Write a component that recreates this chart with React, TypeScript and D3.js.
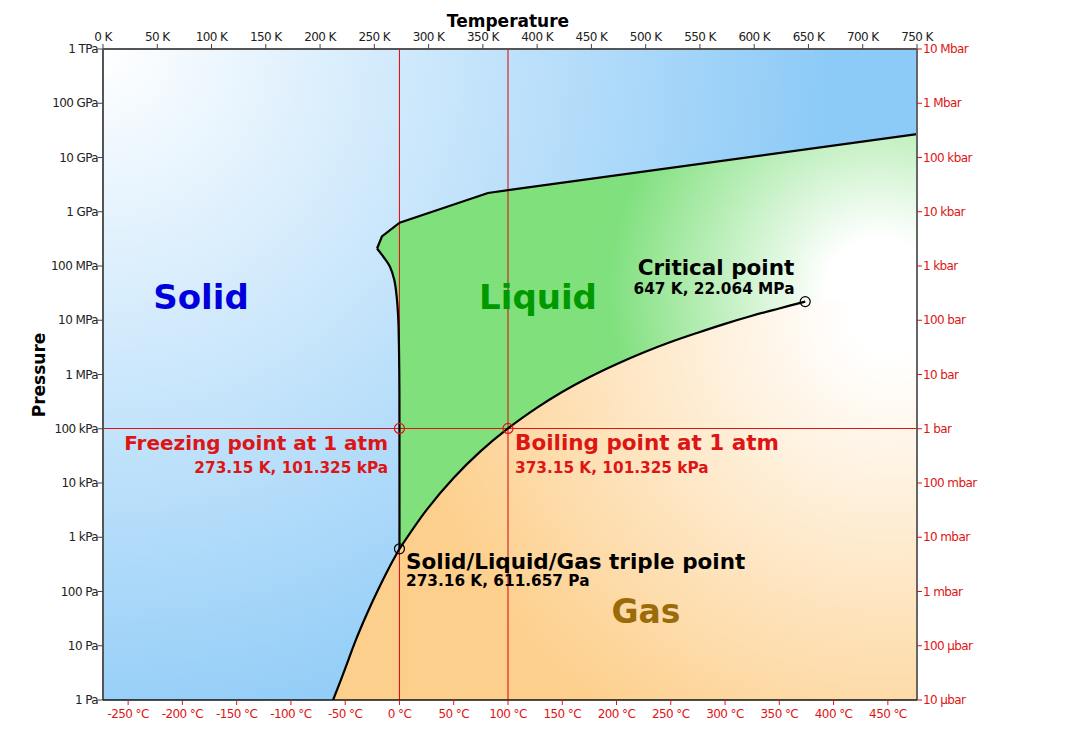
import React from "react";
import * as d3 from "d3";

// ---------- Data (temperature in K, pressure in Pa) ----------
const kelvinTicks = [0, 50, 100, 150, 200, 250, 300, 350, 400, 450, 500, 550, 600, 650, 700, 750];
const celsiusTicks = [-250, -200, -150, -100, -50, 0, 50, 100, 150, 200, 250, 300, 350, 400, 450];
const paTickLabels = ["1 Pa", "10 Pa", "100 Pa", "1 kPa", "10 kPa", "100 kPa", "1 MPa", "10 MPa", "100 MPa", "1 GPa", "10 GPa", "100 GPa", "1 TPa"];
const barTickLabels = ["10 µbar", "100 µbar", "1 mbar", "10 mbar", "100 mbar", "1 bar", "10 bar", "100 bar", "1 kbar", "10 kbar", "100 kbar", "1 Mbar", "10 Mbar"];

// sublimation curve (solid / gas)
const sublimationT = [212, 222, 233, 243, 253, 263, 273.16];
const sublimationP = [1, 3.3, 12.8, 38, 103, 260, 611.657];

// vaporization curve (liquid / gas), triple point -> critical point
const vaporT = [273.16, 298, 323, 348, 373.15, 400, 423, 448, 473, 498, 523, 548, 573, 598, 623, 647];
const vaporP = [611.657, 3170, 12350, 38600, 101325, 245000, 476000, 892000, 1.55e6, 2.55e6, 3.97e6, 5.9e6, 8.59e6, 12.1e6, 16.5e6, 22.064e6];

// melting curve of ice Ih (smooth part)
const meltT = [273.16, 273.15, 273.0, 272.1, 270.6, 268.4, 264.4, 258.3, 252.5];
const meltP = [611.657, 101325, 1e6, 1e7, 2.7e7, 5.5e7, 9.7e7, 1.48e8, 2.1e8];

// high-pressure boundary (ice III, V, VI, VII)
const highT = [252.5, 257, 273.3, 354.7, 750];
const highP = [2.1e8, 3.5e8, 6.3e8, 2.22e9, 2.7e10];

const triplePoint = { T: 273.16, P: 611.657 };
const criticalPoint = { T: 647, P: 22.064e6 };
const freezingPoint = { T: 273.15, P: 101325 };
const boilingPoint = { T: 373.15, P: 101325 };

// ---------- Layout ----------
const W = 1080;
const H = 751;
const left = 103;
const right = 917;
const top = 49;
const bottom = 700;

const x = d3.scaleLinear().domain([0, 750]).range([left, right]);
const y = d3.scaleLog().domain([1, 1e12]).range([bottom, top]);

const zip = (ts: number[], ps: number[]) => ts.map((t, i) => [t, ps[i]] as [number, number]);

const FONT = "'DejaVu Sans', sans-serif";
const RED = "#dd1515";

export default function App() {
  const lineLinear = d3.line<[number, number]>().x((d) => x(d[0])).y((d) => y(d[1]));
  const lineSmooth = d3
    .line<[number, number]>()
    .x((d) => x(d[0]))
    .y((d) => y(d[1]))
    .curve(d3.curveCatmullRom.alpha(0.5));

  const subl = zip(sublimationT, sublimationP);
  const vap = zip(vaporT, vaporP);
  const melt = zip(meltT, meltP);
  const high = zip(highT, highP);

  const sublPath = lineSmooth(subl) || "";
  const vapPath = lineSmooth(vap) || "";
  const meltPath = lineSmooth(melt) || "";
  const highPath = lineLinear(high) || "";

  const liquidPath =
    meltPath +
    "L" + highPath.slice(1) +
    `L${x(750)},${y(criticalPoint.P)}` +
    "L" + (lineSmooth([...vap].reverse()) || "").slice(1) +
    "Z";

  const gasPath =
    sublPath +
    "L" + vapPath.slice(1) +
    `L${x(750) + 5},${y(criticalPoint.P * 3)}` +
    `L${x(750) + 5},${y(1) + 5}` +
    `L${x(sublimationT[0])},${y(1) + 5}` +
    "Z";

  const decades = d3.range(0, 13);
  const cx = x(criticalPoint.T) + 75;
  const cy = y(criticalPoint.P);

  return (
    <svg width={W} height={H} viewBox={`0 0 ${W} ${H}`} style={{ display: "block", position: "absolute", left: 0, top: 0 }}>
      <defs>
        <radialGradient id="solidGrad" gradientUnits="userSpaceOnUse" cx={left} cy={top} r={730}>
          <stop offset="0" stopColor="#ffffff" />
          <stop offset="1" stopColor="#8ccaf7" />
        </radialGradient>
        <radialGradient id="gasGrad" gradientUnits="userSpaceOnUse" cx={cx + 10} cy={cy + 15} r={490}>
          <stop offset="0" stopColor="#ffffff" />
          <stop offset="0.08" stopColor="#ffffff" />
          <stop offset="1" stopColor="#fdcf8c" />
        </radialGradient>
        <radialGradient id="liquidGrad" gradientUnits="userSpaceOnUse" cx={cx} cy={cy - 10} r={300}>
          <stop offset="0" stopColor="#ffffff" />
          <stop offset="0.18" stopColor="#ffffff" />
          <stop offset="0.9" stopColor="#80e07e" />
          <stop offset="1" stopColor="#7fe07c" />
        </radialGradient>
        <clipPath id="plotClip">
          <rect x={left} y={top} width={right - left} height={bottom - top} />
        </clipPath>
      </defs>

      <rect width={W} height={H} fill="#ffffff" />

      <g clipPath="url(#plotClip)">
        <rect x={left} y={top} width={right - left} height={bottom - top} fill="url(#solidGrad)" />
        <path d={gasPath} fill="url(#gasGrad)" />
        <path d={liquidPath} fill="url(#liquidGrad)" />

        {/* reference lines */}
        <line x1={x(freezingPoint.T)} x2={x(freezingPoint.T)} y1={top} y2={bottom} stroke={RED} strokeWidth={1.1} />
        <line x1={x(boilingPoint.T)} x2={x(boilingPoint.T)} y1={top} y2={bottom} stroke={RED} strokeWidth={1.1} />
        <line x1={left} x2={right} y1={y(101325)} y2={y(101325)} stroke={RED} strokeWidth={1.1} />

        {/* phase boundaries */}
        <path d={sublPath} fill="none" stroke="#000" strokeWidth={2.2} />
        <path d={vapPath} fill="none" stroke="#000" strokeWidth={2.2} />
        <path d={meltPath} fill="none" stroke="#000" strokeWidth={2.2} />
        <path d={highPath} fill="none" stroke="#000" strokeWidth={2.2} strokeLinejoin="miter" />
      </g>

      {/* points */}
      <circle cx={x(freezingPoint.T)} cy={y(freezingPoint.P)} r={5} fill="none" stroke={RED} strokeWidth={1.2} />
      <circle cx={x(boilingPoint.T)} cy={y(boilingPoint.P)} r={5} fill="none" stroke={RED} strokeWidth={1.2} />
      <circle cx={x(triplePoint.T)} cy={y(triplePoint.P)} r={5} fill="none" stroke="#000" strokeWidth={1.2} />
      <circle cx={x(criticalPoint.T)} cy={y(criticalPoint.P)} r={5} fill="none" stroke="#000" strokeWidth={1.2} />

      {/* axes frame */}
      <line x1={left} x2={right} y1={top} y2={top} stroke="#555" strokeWidth={2} />
      <line x1={left} x2={left} y1={top} y2={bottom} stroke="#555" strokeWidth={2} />
      <line x1={right} x2={right} y1={top} y2={bottom} stroke="#666" strokeWidth={2} />
      <line x1={left} x2={right} y1={bottom} y2={bottom} stroke="#111" strokeWidth={1.6} />

      {/* top K axis */}
      {kelvinTicks.map((k) => (
        <g key={"k" + k}>
          <line x1={x(k)} x2={x(k)} y1={top} y2={top - 5} stroke="#444" strokeWidth={1} />
          <text x={x(k)} y={top - 8} textAnchor="middle" fontFamily={FONT} fontSize={12} letterSpacing={-0.6} fill="#222">
            {k} K
          </text>
        </g>
      ))}

      {/* bottom °C axis */}
      {celsiusTicks.map((c) => (
        <g key={"c" + c}>
          <line x1={x(c + 273.15)} x2={x(c + 273.15)} y1={bottom} y2={bottom + 5} stroke={RED} strokeWidth={1} />
          <text x={x(c + 273.15)} y={bottom + 18} textAnchor="middle" fontFamily={FONT} fontSize={12} letterSpacing={-0.6} fill={RED}>
            {c} °C
          </text>
        </g>
      ))}

      {/* left Pa axis */}
      {decades.map((d) => (
        <g key={"p" + d}>
          <line x1={left} x2={left - 5} y1={y(Math.pow(10, d))} y2={y(Math.pow(10, d))} stroke="#444" strokeWidth={1} />
          <text x={left - 5} y={y(Math.pow(10, d)) + 4} textAnchor="end" fontFamily={FONT} fontSize={12} letterSpacing={-0.6} fill="#222">
            {paTickLabels[d]}
          </text>
        </g>
      ))}

      {/* right bar axis */}
      {decades.map((d) => (
        <g key={"b" + d}>
          <line x1={right} x2={right + 5} y1={y(Math.pow(10, d))} y2={y(Math.pow(10, d))} stroke={RED} strokeWidth={1} />
          <text x={right + 6} y={y(Math.pow(10, d)) + 4} textAnchor="start" fontFamily={FONT} fontSize={12} letterSpacing={-0.6} fill={RED}>
            {barTickLabels[d]}
          </text>
        </g>
      ))}

      {/* axis titles */}
      <text x={508} y={27} textAnchor="middle" fontFamily={FONT} fontWeight="bold" fontSize={17} fill="#000">
        Temperature
      </text>
      <text transform="translate(45,375) rotate(-90)" textAnchor="middle" fontFamily={FONT} fontWeight="bold" fontSize={17} fill="#000">
        Pressure
      </text>

      {/* region labels */}
      <text x={201} y={309} textAnchor="middle" fontFamily={FONT} fontWeight="bold" fontSize={34} fill="#0000dd">
        Solid
      </text>
      <text x={538} y={309} textAnchor="middle" fontFamily={FONT} fontWeight="bold" fontSize={34} fill="#009900">
        Liquid
      </text>
      <text x={646} y={623} textAnchor="middle" fontFamily={FONT} fontWeight="bold" fontSize={33} fill="#9b6b0a">
        Gas
      </text>

      {/* point labels */}
      <text x={716} y={275} textAnchor="middle" fontFamily={FONT} fontWeight="bold" fontSize={21.5} fill="#000">
        Critical point
      </text>
      <text x={714} y={294} textAnchor="middle" fontFamily={FONT} fontWeight="bold" fontSize={15.3} fill="#000">
        647 K, 22.064 MPa
      </text>

      <text x={388} y={450} textAnchor="end" fontFamily={FONT} fontWeight="bold" fontSize={20} fill={RED}>
        Freezing point at 1 atm
      </text>
      <text x={388} y={473} textAnchor="end" fontFamily={FONT} fontWeight="bold" fontSize={15.3} fill={RED}>
        273.15 K, 101.325 kPa
      </text>

      <text x={515} y={450} textAnchor="start" fontFamily={FONT} fontWeight="bold" fontSize={21.5} fill={RED}>
        Boiling point at 1 atm
      </text>
      <text x={515} y={473} textAnchor="start" fontFamily={FONT} fontWeight="bold" fontSize={15.3} fill={RED}>
        373.15 K, 101.325 kPa
      </text>

      <text x={406} y={569} textAnchor="start" fontFamily={FONT} fontWeight="bold" fontSize={21.5} fill="#000">
        Solid/Liquid/Gas triple point
      </text>
      <text x={406} y={586} textAnchor="start" fontFamily={FONT} fontWeight="bold" fontSize={15.3} fill="#000">
        273.16 K, 611.657 Pa
      </text>
    </svg>
  );
}
